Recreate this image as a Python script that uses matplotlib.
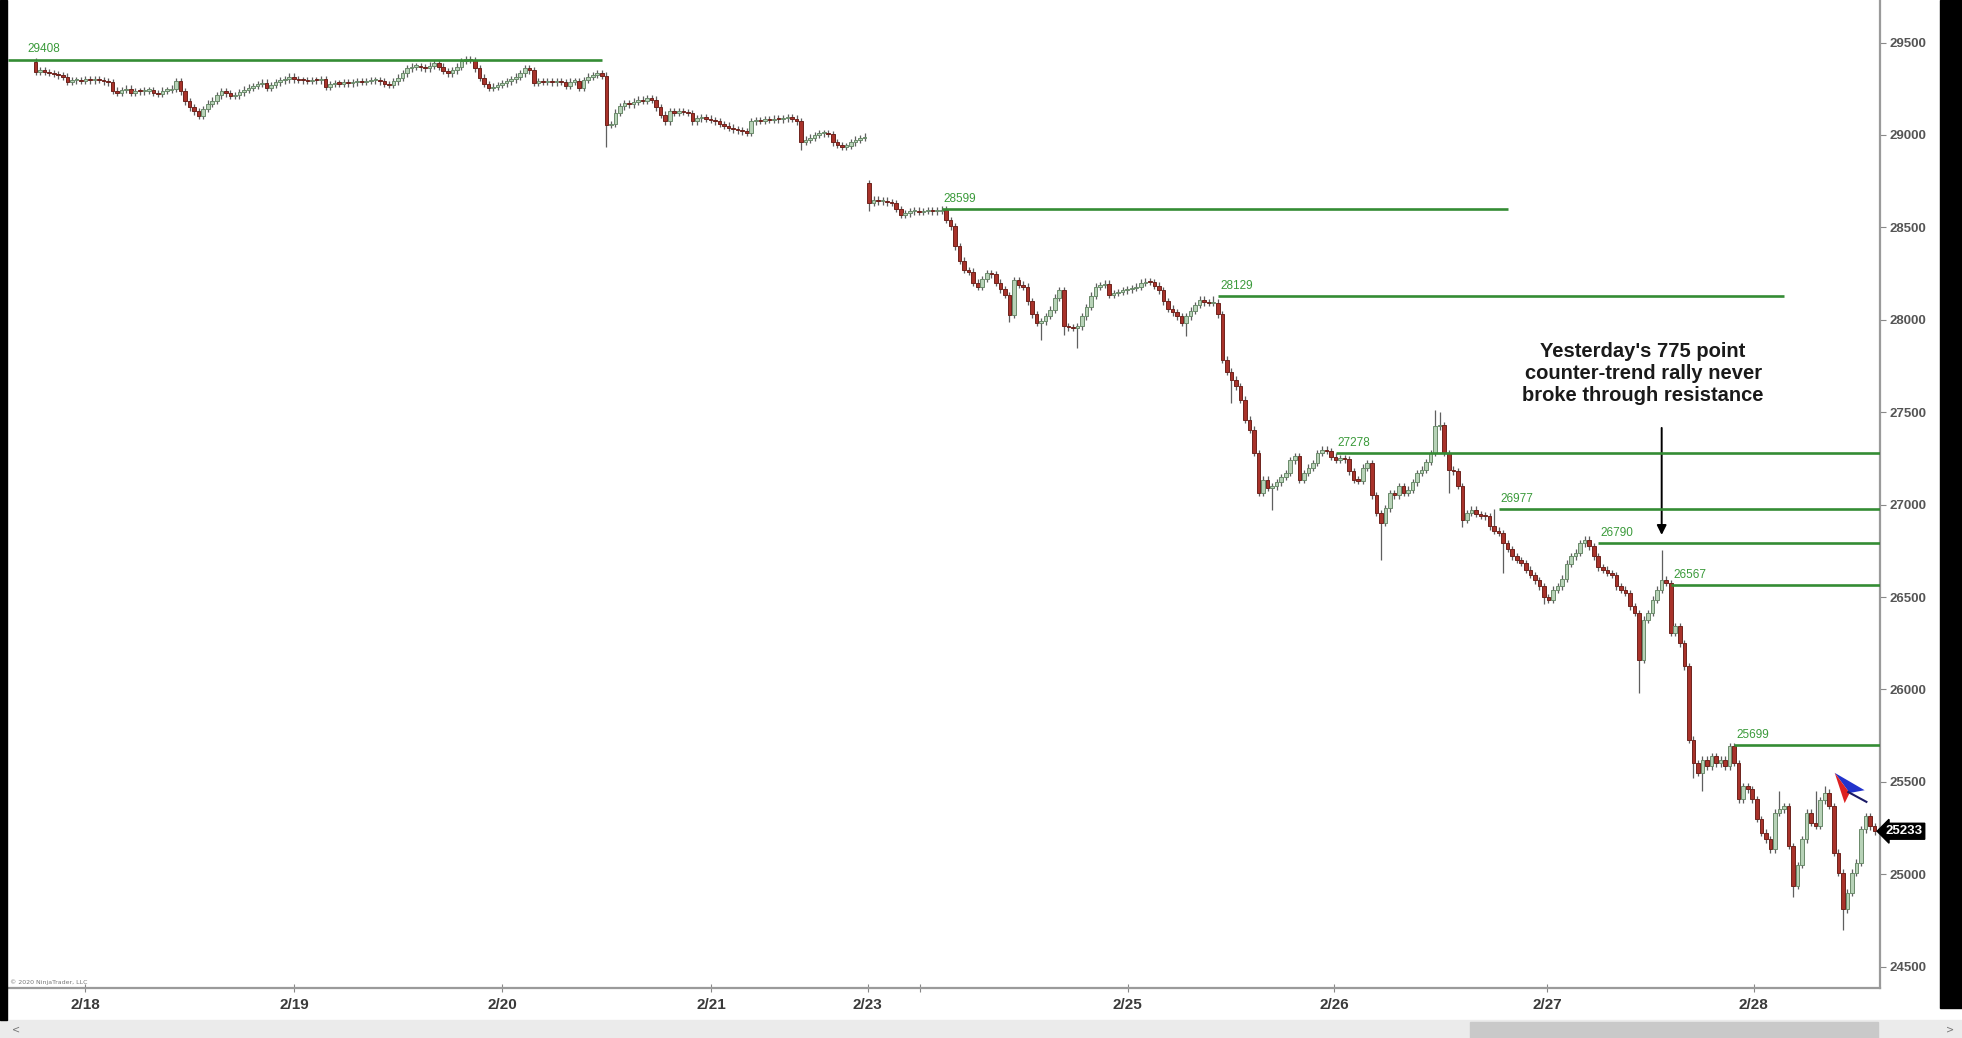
import numpy as np
import matplotlib.pyplot as plt
from matplotlib.patches import Rectangle, Polygon

# 30-minute candles, index = bar number on the chart (first visible bar = 3)
first_bar = 3
first_open = 29397
gap_opens = {187: 28739}  # Sunday session open after the weekend gap

closes = [
    29343, 29350, 29340, 29335, 29330, 29322, 29316, 29289, 29295, 29298,
    29292, 29300, 29296, 29302, 29298, 29290, 29285, 29240, 29226, 29244,
    29250, 29226, 29238, 29235, 29240, 29242, 29226, 29222, 29240, 29244,
    29250, 29290, 29235, 29181, 29150, 29127, 29105, 29140, 29170, 29185,
    29215, 29235, 29225, 29210, 29215, 29230, 29245, 29255, 29265, 29275,
    29283, 29253, 29270, 29285, 29295, 29300, 29316, 29300, 29298, 29295,
    29292, 29298, 29295, 29300, 29262, 29275, 29280, 29278, 29282, 29280,
    29285, 29290, 29288, 29292, 29296, 29298, 29290, 29275, 29271, 29290,
    29310, 29334, 29360, 29370, 29372, 29365, 29361, 29375, 29388, 29370,
    29345, 29334, 29350, 29370, 29400, 29410, 29405, 29360, 29310, 29275,
    29253, 29262, 29270, 29280, 29290, 29300, 29315, 29334, 29361, 29350,
    29283, 29290, 29288, 29292, 29285, 29290, 29286, 29265, 29289, 29292,
    29253, 29298, 29315, 29325, 29334, 29320, 29055, 29060, 29120, 29154,
    29172, 29165, 29180, 29190, 29185, 29199, 29190, 29150, 29110, 29073,
    29127, 29120, 29130, 29125, 29118, 29073, 29090, 29095, 29088, 29080,
    29073, 29060, 29050, 29040, 29030, 29025, 29019, 29010, 29073, 29080,
    29075, 29085, 29082, 29088, 29085, 29090, 29095, 29088, 29073, 28964,
    28974, 28985, 29000, 29008, 29010, 29005, 28960, 28946, 28937, 28940,
    28960, 28974, 28983, 28990, 28631, 28649, 28640, 28645, 28635, 28631,
    28600, 28568, 28575, 28586, 28590, 28585, 28588, 28592, 28586, 28590,
    28595, 28540, 28505, 28397, 28320, 28270, 28260, 28200, 28180, 28220,
    28252, 28245, 28200, 28165, 28135, 28027, 28216, 28190, 28180, 28100,
    28030, 27982, 27991, 28020, 28054, 28120, 28162, 27964, 27960, 27955,
    27965, 28018, 28070, 28130, 28180, 28189, 28195, 28135, 28144, 28150,
    28160, 28165, 28172, 28180, 28200, 28207, 28205, 28185, 28160, 28100,
    28060, 28040, 28018, 27982, 28018, 28050, 28080, 28108, 28095, 28090,
    28092, 28030, 27784, 27720, 27676, 27640, 27568, 27459, 27405, 27279,
    27063, 27135, 27090, 27099, 27120, 27150, 27171, 27240, 27261, 27135,
    27171, 27200, 27225, 27280, 27297, 27290, 27260, 27243, 27250, 27245,
    27180, 27135, 27130, 27200, 27225, 27050, 26955, 26900, 26980, 27063,
    27050, 27099, 27063, 27081, 27120, 27171, 27189, 27230, 27279, 27423,
    27430, 27279, 27189, 27180, 27100, 26919, 26955, 26973, 26950, 26940,
    26937, 26883, 26860, 26847, 26793, 26760, 26720, 26700, 26684, 26648,
    26620, 26590, 26558, 26500, 26486, 26540, 26558, 26600, 26680, 26720,
    26740, 26790, 26811, 26774, 26721, 26660, 26648, 26630, 26620, 26558,
    26540, 26522, 26450, 26414, 26162, 26378, 26414, 26486, 26540, 26594,
    26576, 26306, 26342, 26250, 26126, 25729, 25600, 25549, 25621, 25585,
    25639, 25600, 25620, 25585, 25693, 25603, 25405, 25477, 25460, 25405,
    25300, 25225, 25189, 25135, 25333, 25351, 25369, 25153, 24937, 25050,
    25189, 25333, 25279, 25261, 25400, 25441, 25369, 25117, 25009, 24811,
    24900, 25009, 25063, 25243, 25315, 25260, 25233,
]

# notable wicks (bar -> price)
spike_high = {3: 29408, 34: 29300, 98: 29418, 138: 29210, 187: 28745, 203: 28599,
              263: 28129, 312: 27513, 313: 27500, 325: 26977, 345: 26823, 347: 26790,
              362: 26757, 378: 25699, 388: 25450, 396: 25450, 398: 25480, 407: 25330}
spike_low = {129: 28937, 172: 28920, 187: 28586, 218: 27990, 225: 27892, 230: 27920,
             233: 27847, 257: 27910, 267: 27549, 276: 26973, 300: 26702, 315: 27063,
             318: 26880, 327: 26630, 336: 26460, 357: 25982, 369: 25520, 371: 25450,
             391: 24880, 402: 24700}
wick_pad = 18

# resistance levels
levels = [29408, 28599, 28129, 27278, 26977, 26790, 26567, 25699]
line_start = [-3.1, 203, 264, 290, 326, 348, 364, 378]
line_end = [128, 328, 389, 411, 411, 411, 411, 411]
label_x = [1.2, 203.5, 264.5, 290.5, 326.5, 348.5, 364.5, 378.5]

# date axis (bar positions of midnight / session start)
tick_pos = [14, 60.1, 106, 152.1, 186.7, 198.3, 244.1, 289.7, 336.7, 382.3]
tick_labels = ['2/18', '2/19', '2/20', '2/21', '2/23', '', '2/25', '2/26', '2/27', '2/28']
last_price = 25233

closes = np.array(closes, dtype=float)
x = np.arange(first_bar, first_bar + len(closes))
opens = np.r_[first_open, closes[:-1]]
for b, v in gap_opens.items():
    opens[b - first_bar] = v
highs = np.maximum(opens, closes) + wick_pad
lows = np.minimum(opens, closes) - wick_pad
for b, v in spike_high.items():
    highs[b - first_bar] = max(highs[b - first_bar], v)
for b, v in spike_low.items():
    lows[b - first_bar] = min(lows[b - first_bar], v)

up = closes >= opens
fill = np.where(up, '#b7d2b7', '#a8322a')
edge = np.where(up, '#6a8a6a', '#6e231d')

W, H = 1962, 1038
fig = plt.figure(figsize=(W / 100, H / 100), dpi=100)
fig.patch.set_facecolor('white')
ax = fig.add_axes([8 / W, 1 - 988 / H, (1880 - 8) / W, 988 / H])

ax.vlines(x, lows, highs, color='#5f5f5f', lw=0.9, zorder=2)
ax.bar(x, np.maximum(np.abs(closes - opens), 6), bottom=np.minimum(opens, closes),
       width=0.8, color=fill, edgecolor=edge, linewidth=0.7, zorder=3)

for lev, s, e, lx in zip(levels, line_start, line_end, label_x):
    ax.hlines(lev, s, e, color='#348c34', lw=1.9, zorder=4)
    ax.text(lx, lev + 22, str(lev), color='#3a9a3a', fontsize=8.5,
            family='Liberation Sans', ha='left', va='bottom', zorder=5)

ax.text(357.9, 27707, "Yesterday's 775 point\ncounter-trend rally never\nbroke through resistance",
        ha='center', va='center', multialignment='center', fontsize=14.5,
        fontweight='bold', family='Liberation Sans', color='#1a1a1a', linespacing=1.2)
ax.annotate('', xy=(362, 26821), xytext=(362, 27430),
            arrowprops=dict(arrowstyle='-|>', color='black', lw=1.4, mutation_scale=14))

# mouse pointer left on the screenshot
ax.add_patch(Polygon([(400.2, 25549), (406.8, 25455), (403.5, 25440)],
                     closed=True, fc='#2233cc', ec='none', zorder=6))
ax.add_patch(Polygon([(400.2, 25549), (403.5, 25440), (402.4, 25385)],
                     closed=True, fc='#dd2222', ec='none', zorder=6))
ax.plot([403.2, 407.2], [25445, 25392], color='#1a1a66', lw=1.5, zorder=6)

ax.set_xlim(-3.1, 410.2)
ax.set_ylim(24385, 29730)

ax.yaxis.tick_right()
ax.set_yticks(np.arange(24500, 29501, 500))
ax.tick_params(axis='y', length=4, width=0.8, color='#888888', pad=3,
               labelsize=9.5, labelcolor='#555555')
for t in ax.get_yticklabels():
    t.set_fontweight('bold')
    t.set_family('Liberation Sans')

ax.set_xticks(tick_pos)
ax.set_xticklabels(tick_labels)
ax.tick_params(axis='x', direction='inout', length=6, width=0.8, color='#888888',
               pad=4, labelsize=11, labelcolor='#3a3a3a')
for t in ax.get_xticklabels():
    t.set_fontweight('bold')
    t.set_family(['Liberation Sans Narrow', 'Liberation Sans'])

for side in ['top', 'left']:
    ax.spines[side].set_visible(False)
for side in ['right', 'bottom']:
    ax.spines[side].set_color('#9a9a9a')
    ax.spines[side].set_linewidth(1.6)

ax.text(1.003, last_price, str(last_price), transform=ax.get_yaxis_transform(),
        color='white', fontsize=9.5, fontweight='bold', family='Liberation Sans',
        ha='left', va='center',
        bbox=dict(boxstyle='larrow,pad=0.15', fc='black', ec='black'))

# window chrome: scrollbar, dark borders, copyright
fig.patches.append(Rectangle((0, 0), 1, 18 / H, transform=fig.transFigure,
                             color='#ebebeb', zorder=0))
fig.patches.append(Rectangle((1470 / W, 0), 408 / W, 16 / H, transform=fig.transFigure,
                             color='#c9c9c9', zorder=1))
fig.patches.append(Rectangle((0, 18 / H), 7 / W, 1 - 18 / H, transform=fig.transFigure,
                             color='black', zorder=1))
fig.patches.append(Rectangle((1940 / W, 30 / H), 22 / W, 1 - 30 / H, transform=fig.transFigure,
                             color='black', zorder=1))
fig.text(10 / W, 1 - 985 / H, '\u00a9 2020 NinjaTrader, LLC', fontsize=4.5, color='#777777',
         va='bottom')
fig.text(12 / W, 8 / H, '<', fontsize=7, color='#777777', va='center')
fig.text(1946 / W, 8 / H, '>', fontsize=7, color='#777777', va='center')

fig.savefig('out.png', dpi=100)
